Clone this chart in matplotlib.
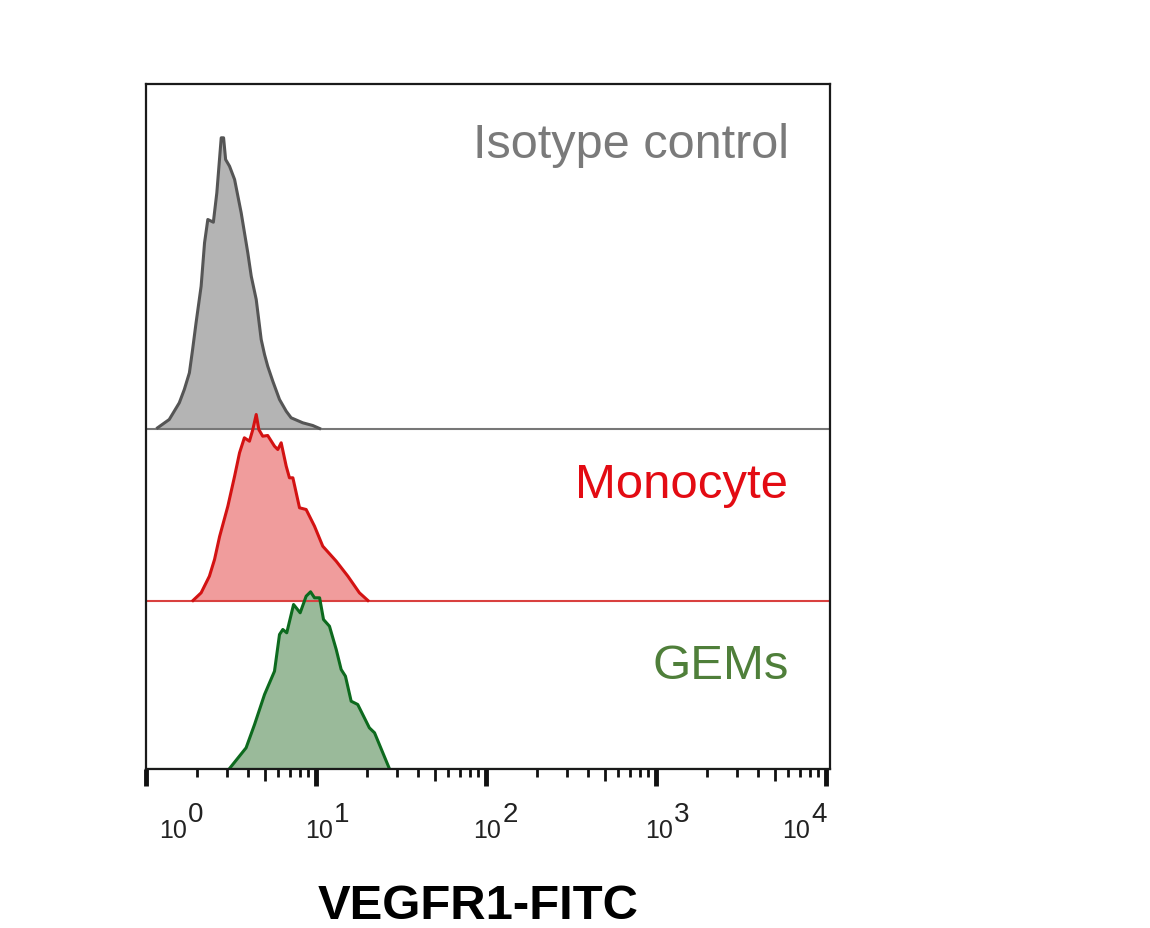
import matplotlib
matplotlib.use('Agg')
import matplotlib.pyplot as plt
import numpy as np

plt.rcParams['font.family'] = ['Liberation Sans', 'DejaVu Sans']

# Histogram outlines: FITC intensity and height above each track's baseline
iso_x = [1.17, 1.37, 1.57, 1.68, 1.80, 1.88, 1.97, 2.11, 2.21, 2.31, 2.49, 2.61, 2.77, 2.86, 2.94,
         3.10, 3.32, 3.63, 3.97, 4.16, 4.45, 4.76, 4.98, 5.20, 5.57, 6.10, 6.68, 7.14, 8.36, 9.57, 10.5]
iso_y = [0.7, 9, 25.7, 39, 55.7, 79, 105.7, 142.3, 185.7, 209, 206.3, 235.7, 290.7, 290.7, 269,
         262.3, 249, 215.7, 175.7, 152.3, 129, 89, 74, 62.3, 47.3, 29, 17.3, 10.7, 5.7, 3, 0]

mono_x = [1.89, 2.11, 2.36, 2.53, 2.71, 3.03, 3.32, 3.55, 3.79, 4.06, 4.25, 4.45, 4.61,
          4.86, 5.20, 5.70, 5.96, 6.24, 6.68, 6.98, 7.31, 8.00, 8.75, 9.80, 10.96, 13.15,
          15.4, 18.0, 20.2]
mono_y = [0, 7.7, 24.3, 41, 64, 94.3, 124.3, 147.7, 162.7, 159.3, 171, 186, 171,
          164.3, 165, 154.3, 151, 157.7, 134.3, 122.7, 122.7, 92.7, 91, 74.3, 54.3, 39.3,
          24.3, 7.7, 0]

gems_x = [3.10, 3.88, 4.35, 4.98, 5.70, 6.10, 6.38, 6.73, 7.38, 8.07, 8.75, 9.29, 9.80,
          10.5, 11.07, 12.0, 13.15, 14.06, 14.9, 16.1, 17.6, 20.6, 22.1, 27.0]
gems_y = [0, 20.7, 44, 74, 97.3, 134, 139, 135.7, 164, 155.7, 172.3, 176.7, 170.7,
          170.7, 149, 142.3, 119, 99, 92.3, 67.3, 64, 40.7, 35.7, 0]

# Track baselines on the shared y axis
iso_base = 340
mono_base = 168
gems_base = 0

major_ticks = [1, 10, 100, 1000, 10000]
exponents = ['0', '1', '2', '3', '4']
mantissa_offsets = [27, 3, 1, 3, -30]

W, H = 1150, 929
fig = plt.figure(figsize=(W / 100, H / 100), dpi=100)
ax = fig.add_axes([146 / W, 1 - 769.5 / H, (830 - 146) / W, (769.5 - 84.5) / H])

x_max = 10 ** ((830 - 146) / 170)
ax.set_xscale('log')
ax.set_xlim(1, x_max)
ax.set_ylim(0, 685)

tracks = [
    (iso_x, iso_y, iso_base, '#b4b4b4', '#555555', '#777777'),
    (mono_x, mono_y, mono_base, '#f09c9c', '#d31212', '#d9403f'),
    (gems_x, gems_y, gems_base, '#9aba9a', '#0d6a1e', '#0d6a1e'),
]
for xs, ys, base, fill, edge, base_color in tracks:
    xs = np.array(xs)
    ys = np.array(ys) + base
    ax.fill_between(xs, base, ys, color=fill, linewidth=0)
    ax.plot([1, x_max], [base, base], color=base_color, lw=1.5)
    ax.plot(xs, ys, color=edge, lw=2.2, solid_joinstyle='round')

# Frame
for name, spine in ax.spines.items():
    spine.set_linewidth(1.6)
    spine.set_color('#1a1a1a')
    spine.set_zorder(5)

# Log ticks, 5x ticks a bit longer
minor = [m * t for t in major_ticks[:-1] for m in range(2, 10)]
ax.set_xticks(major_ticks)
ax.set_xticks(minor, minor=True)
ax.set_xticklabels([])
ax.set_xticklabels([], minor=True)
ax.set_yticks([])
ax.tick_params(axis='x', which='major', length=12.5, width=3.5, color='#111111')
ax.tick_params(axis='x', which='minor', length=6, width=2, color='#111111')
for tick, loc in zip(ax.xaxis.get_minor_ticks(), minor):
    if str(loc)[0] == '5':
        tick.tick1line.set_markersize(8.5)

# Tick labels, mantissa and exponent are offset from the tick like in the cytometer export
trans = ax.get_xaxis_transform()
for t, e, dx1 in zip(major_ticks, exponents, mantissa_offsets):
    ax.annotate('10', xy=(t, 0), xycoords=trans, xytext=(dx1, -62), textcoords='offset pixels',
                ha='center', va='center', fontsize=18, color='#222222')
    ax.annotate(e, xy=(t, 0), xycoords=trans, xytext=(dx1 + 23, -45), textcoords='offset pixels',
                ha='center', va='center', fontsize=20, color='#222222')

# Labels
fig.text(789 / W, 1 - 146 / H, 'Isotype control', ha='right', va='center', fontsize=35, color='#7a7a7a')
fig.text(788 / W, 1 - 486 / H, 'Monocyte', ha='right', va='center', fontsize=35.4, color='#e30b13')
fig.text(788.5 / W, 1 - 667 / H, 'GEMs', ha='right', va='center', fontsize=35.4, color='#4f7f3a')
fig.text(478 / W, 1 - 907 / H, 'VEGFR1-FITC', ha='center', va='center', fontsize=35.3,
         fontweight='bold', color='black')

fig.savefig('out.png', dpi=100)
